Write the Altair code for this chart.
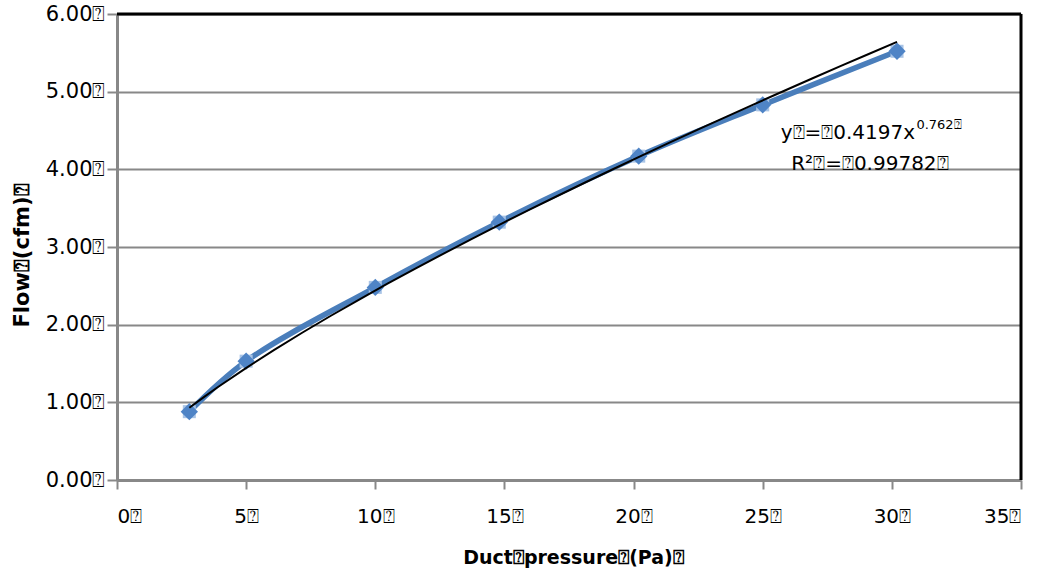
import altair as alt
import pandas as pd

T = "\u2370"  # stands in for the boxed unknown glyph seen in the reference

pressure_pa = [2.8, 5.0, 10.0, 14.8, 20.2, 25.0, 30.2]
flow_cfm = [0.88, 1.53, 2.48, 3.32, 4.17, 4.83, 5.52]

y_ticks = [0, 1, 2, 3, 4, 5, 6]
x_ticks = [0, 5, 10, 15, 20, 25, 30, 35]

df = pd.DataFrame({"x": pressure_pa, "y": flow_cfm})

FONT = "DejaVu Sans"
BLUE = "#4a7ebb"
GRAY = "#888888"

x_scale = alt.Scale(domain=[0, 35], nice=False, zero=False)
y_scale = alt.Scale(domain=[0, 6], nice=False, zero=False)

x_axis = alt.Axis(
    title=f"Duct{T}pressure{T}(Pa){T}",
    values=x_ticks,
    labelExpr=f"datum.value + '{T}'",
    grid=False,
    domainColor=GRAY, domainWidth=3,
    tickColor=GRAY, tickWidth=2, tickSize=9,
    labelFont=FONT, labelFontSize=20, labelColor="black", labelPadding=17,
    titleFont=FONT, titleFontSize=19, titleFontWeight="bold", titleColor="black",
    titleX=456, titleY=77, titleBaseline="middle",
)
y_axis = alt.Axis(
    title=f"Flow{T}(cfm){T}",
    values=y_ticks,
    labelExpr=f"format(datum.value, '.2f') + '{T}'",
    grid=True, gridColor=GRAY, gridWidth=2,
    domainColor=GRAY, domainWidth=3,
    tickColor=GRAY, tickWidth=2, tickSize=10,
    labelFont=FONT, labelFontSize=21, labelColor="black", labelPadding=2,
    titleFont=FONT, titleFontSize=21, titleFontWeight="bold", titleColor="black",
    titleX=-95, titleY=241, titleBaseline="middle", titleAngle=-90,
)

base = alt.Chart(df)

frame_top = alt.Chart(pd.DataFrame({"v": [6]})).mark_rule(color="black", strokeWidth=3).encode(
    y=alt.Y("v:Q", scale=y_scale, axis=y_axis)
)
frame_right = alt.Chart(pd.DataFrame({"v": [35]})).mark_rule(color="black", strokeWidth=3).encode(
    x=alt.X("v:Q", scale=x_scale, axis=x_axis)
)

line = base.mark_line(color=BLUE, strokeWidth=5.5, interpolate="catmull-rom").encode(
    x=alt.X("x:Q", scale=x_scale, axis=x_axis),
    y=alt.Y("y:Q", scale=y_scale, axis=y_axis),
)
points_halo = base.mark_point(shape="square", filled=True, size=170, color="#a9c4e6", opacity=1).encode(
    x=alt.X("x:Q", scale=x_scale),
    y=alt.Y("y:Q", scale=y_scale),
)
points = base.mark_point(shape="diamond", filled=True, size=300, color="#4f84c6", opacity=1).encode(
    x=alt.X("x:Q", scale=x_scale),
    y=alt.Y("y:Q", scale=y_scale),
)
trend = base.transform_regression("x", "y", method="pow").mark_line(
    color="black", strokeWidth=2
).encode(
    x=alt.X("x:Q", scale=x_scale),
    y=alt.Y("y:Q", scale=y_scale),
)

eq_df = pd.DataFrame({
    "x": [30.9, 30.95, 29.15],
    "y": [4.47, 4.57, 4.07],
    "t": [f"y{T}={T}0.4197x", f"0.762{T}", f"R\u00b2{T}={T}0.99782{T}"],
})
eq_main = alt.Chart(eq_df.iloc[[0]]).mark_text(align="right", baseline="middle", font=FONT, fontSize=20, color="black").encode(
    x=alt.X("x:Q", scale=x_scale), y=alt.Y("y:Q", scale=y_scale), text="t:N")
eq_sup = alt.Chart(eq_df.iloc[[1]]).mark_text(align="left", baseline="middle", font=FONT, fontSize=13, color="black").encode(
    x=alt.X("x:Q", scale=x_scale), y=alt.Y("y:Q", scale=y_scale), text="t:N")
eq_r2 = alt.Chart(eq_df.iloc[[2]]).mark_text(align="center", baseline="middle", font=FONT, fontSize=20, color="black").encode(
    x=alt.X("x:Q", scale=x_scale), y=alt.Y("y:Q", scale=y_scale), text="t:N")

chart = alt.layer(line, points_halo, points, trend, frame_top, frame_right, eq_main, eq_sup, eq_r2).properties(
    width=904, height=466,
    autosize="none",
    padding={"left": 117, "top": 14, "right": 33, "bottom": 93},
).configure_view(stroke=None).configure(background="white")

chart.save("out.html", embed_options={"renderer": "svg", "actions": False})
